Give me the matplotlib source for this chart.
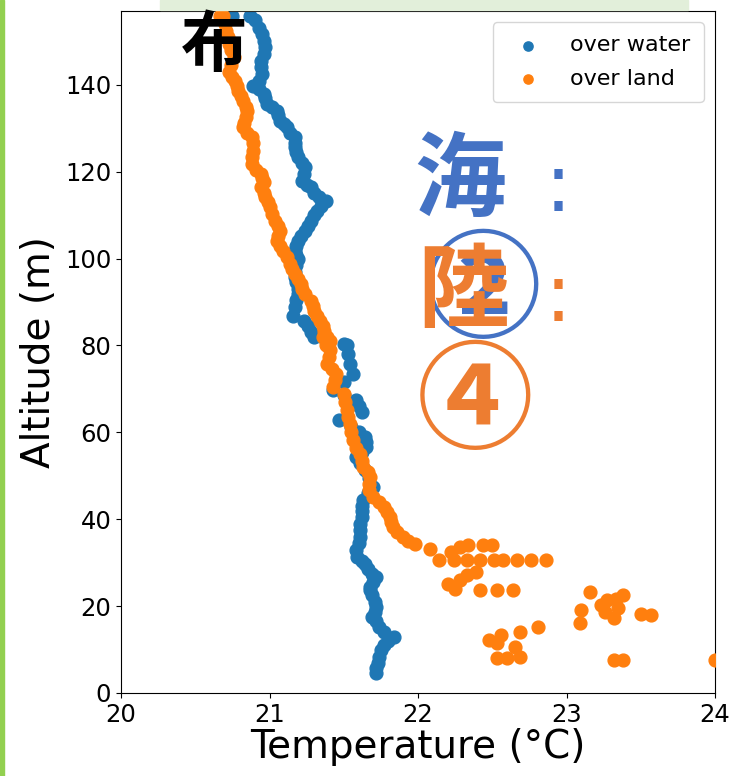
import matplotlib
matplotlib.use("Agg")
import matplotlib.pyplot as plt
from matplotlib.patches import Rectangle

# readings: temperature (degC), altitude (m)
water_temp = [20.75, 20.87, 20.90, 20.93, 20.95, 20.96, 20.97, 20.96, 20.94, 20.94,
              20.95, 20.93, 20.89, 20.93, 20.96, 20.97, 20.98, 21.02, 21.05, 21.06,
              21.07, 21.10, 21.12, 21.14, 21.17, 21.17, 21.17, 21.18, 21.19, 21.22,
              21.24, 21.23, 21.22, 21.25, 21.28, 21.30, 21.33, 21.38, 21.35, 21.32,
              21.30, 21.28, 21.26, 21.24, 21.21, 21.19, 21.18, 21.17, 21.18, 21.19,
              21.18, 21.17, 21.17, 21.18, 21.19, 21.19, 21.18, 21.17, 21.16, 21.23,
              21.26, 21.28, 21.30, 21.38, 21.50, 21.52, 21.53, 21.54, 21.56, 21.50,
              21.43, 21.50, 21.58, 21.60, 21.62, 21.47, 21.55, 21.60, 21.64, 21.65,
              21.65, 21.62, 21.58, 21.61, 21.64, 21.67, 21.70, 21.66, 21.63, 21.62,
              21.62, 21.62, 21.61, 21.61, 21.61, 21.60, 21.58, 21.59, 21.62, 21.64,
              21.66, 21.69, 21.72, 21.70, 21.68, 21.68, 21.69, 21.71, 21.72, 21.71,
              21.69, 21.72, 21.74, 21.77, 21.84, 21.80, 21.77, 21.75, 21.74, 21.73,
              21.72, 21.72]
water_alt = [155.9, 155.9, 155.0, 153.0, 151.6, 150.0, 148.6, 147.0, 145.5, 144.0,
             142.5, 141.0, 139.8, 139.0, 138.0, 137.0, 135.5, 134.8, 134.0, 133.0,
             131.7, 131.0, 130.2, 129.0, 127.9, 126.7, 125.6, 124.5, 123.3, 122.0,
             121.0, 119.5, 117.9, 117.0, 116.4, 115.0, 114.1, 113.3, 112.0, 111.0,
             110.0, 108.7, 107.5, 106.4, 105.3, 104.1, 103.0, 101.8, 100.8, 99.9,
             98.5, 97.0, 95.7, 94.5, 93.0, 91.9, 90.5, 88.8, 86.9, 85.7,
             84.5, 83.0, 81.9, 81.1, 80.4, 80.0, 78.0, 75.8, 73.5, 71.5,
             69.7, 68.5, 67.4, 66.0, 64.7, 62.8, 61.2, 60.0, 59.0, 57.8,
             56.7, 55.5, 54.4, 53.0, 51.3, 49.5, 47.4, 46.0, 44.4, 43.0,
             41.8, 40.5, 39.0, 37.5, 35.9, 34.5, 33.0, 31.3, 30.5, 29.7,
             28.5, 27.5, 26.7, 25.5, 24.5, 23.7, 22.5, 21.0, 19.8, 18.7,
             17.5, 16.5, 15.2, 14.0, 12.9, 12.0, 11.0, 9.8, 8.3, 7.0,
             5.8, 4.5]

land_temp = [20.67, 20.69, 20.70, 20.71, 20.72, 20.73, 20.74, 20.76, 20.74, 20.73,
             20.75, 20.77, 20.78, 20.79, 20.81, 20.82, 20.84, 20.85, 20.84, 20.83,
             20.82, 20.85, 20.88, 20.89, 20.89, 20.88, 20.88, 20.91, 20.94, 20.95,
             20.96, 20.94, 20.96, 20.97, 20.99, 21.00, 21.02, 21.04, 21.06, 21.07,
             21.06, 21.05, 21.07, 21.09, 21.12, 21.14, 21.15, 21.17, 21.19, 21.21,
             21.22, 21.24, 21.28, 21.29, 21.30, 21.32, 21.34, 21.36, 21.37, 21.36,
             21.39, 21.41, 21.38, 21.41, 21.40, 21.39, 21.42, 21.45, 21.44, 21.43,
             21.50, 21.51, 21.52, 21.53, 21.54, 21.55, 21.56, 21.58, 21.61, 21.62,
             21.63, 21.66, 21.68, 21.67, 21.67, 21.70, 21.74, 21.77, 21.79, 21.81,
             21.82, 21.83, 21.86, 21.90, 21.93, 21.98,
             22.08, 22.14, 22.22, 22.28, 22.34, 22.44, 22.50, 22.24, 22.33, 22.42,
             22.51, 22.57, 22.67, 22.76, 22.86, 22.39, 22.33, 22.28, 22.20, 22.25,
             22.42, 22.53, 22.64, 23.16, 23.10, 23.09, 23.23, 23.27, 23.33, 23.38,
             23.26, 23.35, 23.32, 23.50, 23.57, 22.48, 22.56, 22.53, 22.69, 22.81,
             22.65, 22.53, 22.60, 22.69, 23.32, 23.38, 24.00]
land_alt = [155.9, 155.9, 154.0, 152.5, 151.0, 149.5, 148.0, 146.3, 144.5, 142.9,
            141.8, 140.9, 139.8, 138.6, 137.5, 136.3, 135.0, 134.0, 132.5, 131.2,
            130.2, 129.0, 127.9, 126.5, 124.8, 123.3, 121.8, 120.5, 119.5, 118.5,
            117.6, 116.4, 115.2, 114.1, 113.0, 111.8, 110.3, 108.7, 107.5, 106.4,
            105.2, 104.1, 103.0, 101.8, 100.3, 98.8, 97.6, 96.5, 95.3, 94.2,
            93.0, 91.9, 90.3, 89.0, 88.0, 86.8, 85.7, 84.5, 83.4, 81.9,
            82.0, 81.1, 80.0, 78.9, 77.3, 75.8, 74.6, 73.5, 72.0, 70.4,
            68.9, 67.0, 65.1, 63.5, 62.0, 60.0, 58.2, 56.5, 55.1, 53.5,
            52.0, 50.8, 49.7, 48.2, 46.7, 45.1, 43.9, 42.8, 41.6, 40.5,
            39.3, 38.2, 37.0, 35.9, 34.9, 34.4,
            33.2, 30.6, 32.5, 33.7, 34.0, 34.0, 34.0, 30.6, 30.6, 30.6,
            30.6, 30.6, 30.6, 30.6, 30.6, 27.9, 27.1, 26.0, 25.2, 24.0,
            23.7, 23.7, 23.7, 23.3, 19.1, 16.0, 20.2, 21.4, 21.7, 22.5,
            18.7, 19.5, 17.2, 18.3, 17.9, 12.2, 13.3, 11.4, 14.1, 15.2,
            10.7, 8.0, 8.0, 8.3, 7.6, 7.6, 7.6]

x_ticks = [20, 21, 22, 23, 24]
y_ticks = [0, 20, 40, 60, 80, 100, 120, 140]

W, H = 731, 776
fig = plt.figure(figsize=(W / 100, H / 100), dpi=100)
ax = fig.add_axes([121 / W, 1 - 693 / H, (715 - 121) / W, (693 - 11) / H])

ax.scatter(water_temp, water_alt, s=85, color="#1f77b4", label="over water", zorder=2)
ax.scatter(land_temp, land_alt, s=85, color="#ff7f0e", label="over land", zorder=3)

ax.set_xlim(20, 24)
ax.set_ylim(0, 157)
ax.set_xticks(x_ticks)
ax.set_yticks(y_ticks)
ax.tick_params(labelsize=17.5)
ax.set_xlabel("Temperature (°C)", fontsize=28, labelpad=1)
ax.set_ylabel("Altitude (m)", fontsize=28, labelpad=5)
ax.legend(loc="upper right", fontsize=16, markerscale=0.72, borderpad=0.6,
          handletextpad=0.9, labelspacing=0.6)

# decorations from the slide around the chart
fig.patches.append(Rectangle((0, 0), 4 / W, 1, transform=fig.transFigure,
                             color="#92d050", zorder=5))
fig.patches.append(Rectangle((160 / W, 1 - 10 / H), (688 - 160) / W, 10 / H,
                             transform=fig.transFigure, color="#e2efda", zorder=5))

cjk = ["Noto Sans CJK JP", "DejaVu Sans"]
fig.text(214 / W, 1 - 47 / H, "布", family=cjk, weight="bold", fontsize=48,
         color="black", ha="center", va="center", zorder=6)
fig.text(460 / W, 1 - 182 / H, "海", family=cjk, weight="bold", fontsize=66,
         color="#4472c4", ha="center", va="center", zorder=6)
fig.text(483 / W, 1 - 294 / H, "②", family=cjk, weight="bold", fontsize=84,
         color="#4472c4", ha="center", va="center", zorder=6)
fig.text(463 / W, 1 - 293 / H, "陸", family=cjk, weight="bold", fontsize=66,
         color="#ed7d31", ha="center", va="center", zorder=7)
fig.text(475 / W, 1 - 405 / H, "④", family=cjk, weight="bold", fontsize=84,
         color="#ed7d31", ha="center", va="center", zorder=6)
fig.text(558 / W, 1 - 189 / H, ":", family="DejaVu Sans", fontsize=58,
         color="#4472c4", ha="center", va="center", zorder=6)
fig.text(558 / W, 1 - 299 / H, ":", family="DejaVu Sans", fontsize=58,
         color="#ed7d31", ha="center", va="center", zorder=6)

fig.savefig("out.png", dpi=100)
